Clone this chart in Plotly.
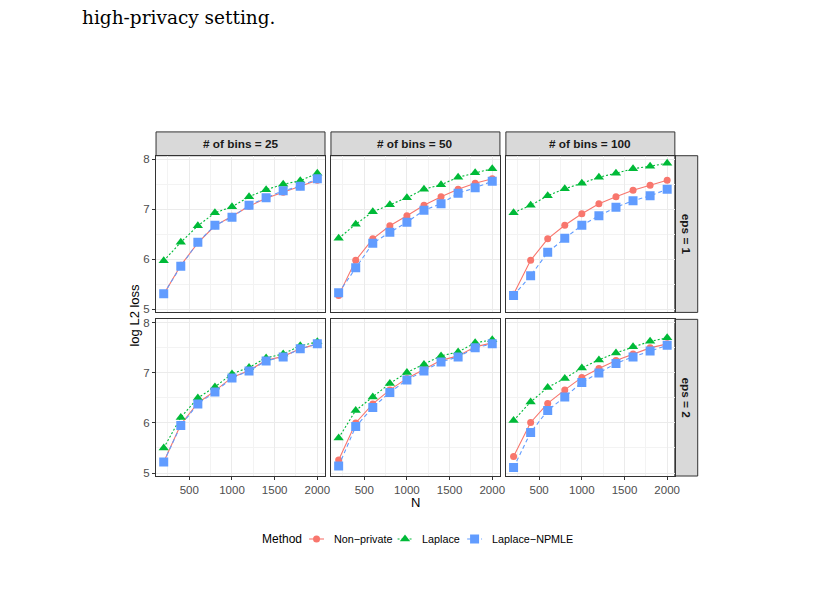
import plotly.graph_objects as go

W, H = 818, 601

N = [200, 400, 600, 800, 1000, 1200, 1400, 1600, 1800, 2000]
bins_labels = ["# of bins = 25", "# of bins = 50", "# of bins = 100"]
eps_labels = ["eps = 1", "eps = 2"]
methods = ["Non\u2212private", "Laplace", "Laplace\u2212NPMLE"]

# log L2 loss values
nonprivate_eps1_b25 = [5.30, 5.88, 6.33, 6.67, 6.86, 7.06, 7.22, 7.34, 7.45, 7.58]
laplace_eps1_b25 = [5.97, 6.34, 6.67, 6.93, 7.05, 7.25, 7.39, 7.50, 7.57, 7.72]
npmle_eps1_b25 = [5.31, 5.86, 6.34, 6.68, 6.84, 7.08, 7.23, 7.37, 7.46, 7.61]

nonprivate_eps1_b50 = [5.28, 5.98, 6.41, 6.67, 6.87, 7.08, 7.25, 7.40, 7.52, 7.61]
laplace_eps1_b50 = [6.42, 6.70, 6.95, 7.09, 7.23, 7.40, 7.49, 7.64, 7.73, 7.81]
npmle_eps1_b50 = [5.33, 5.83, 6.32, 6.54, 6.74, 6.98, 7.11, 7.32, 7.43, 7.56]

nonprivate_eps1_b100 = [5.30, 5.98, 6.41, 6.68, 6.91, 7.11, 7.25, 7.38, 7.48, 7.58]
laplace_eps1_b100 = [6.93, 7.08, 7.27, 7.41, 7.52, 7.64, 7.72, 7.81, 7.86, 7.92]
npmle_eps1_b100 = [5.28, 5.67, 6.14, 6.42, 6.68, 6.87, 7.04, 7.17, 7.27, 7.40]

nonprivate_eps2_b25 = [5.22, 5.97, 6.40, 6.64, 6.91, 7.05, 7.25, 7.33, 7.48, 7.58]
laplace_eps2_b25 = [5.50, 6.11, 6.50, 6.72, 6.98, 7.11, 7.30, 7.38, 7.54, 7.62]
npmle_eps2_b25 = [5.22, 5.95, 6.38, 6.62, 6.90, 7.04, 7.24, 7.32, 7.48, 7.58]

nonprivate_eps2_b50 = [5.26, 6.00, 6.38, 6.66, 6.89, 7.07, 7.25, 7.34, 7.52, 7.60]
laplace_eps2_b50 = [5.70, 6.25, 6.52, 6.79, 7.01, 7.17, 7.34, 7.42, 7.60, 7.66]
npmle_eps2_b50 = [5.14, 5.93, 6.31, 6.61, 6.86, 7.04, 7.22, 7.32, 7.50, 7.58]

nonprivate_eps2_b100 = [5.33, 6.01, 6.39, 6.66, 6.91, 7.09, 7.25, 7.38, 7.50, 7.58]
laplace_eps2_b100 = [6.05, 6.42, 6.71, 6.89, 7.10, 7.26, 7.40, 7.52, 7.63, 7.70]
npmle_eps2_b100 = [5.11, 5.81, 6.25, 6.52, 6.81, 7.00, 7.19, 7.32, 7.44, 7.55]

panels = [
    [[nonprivate_eps1_b25, laplace_eps1_b25, npmle_eps1_b25],
     [nonprivate_eps1_b50, laplace_eps1_b50, npmle_eps1_b50],
     [nonprivate_eps1_b100, laplace_eps1_b100, npmle_eps1_b100]],
    [[nonprivate_eps2_b25, laplace_eps2_b25, npmle_eps2_b25],
     [nonprivate_eps2_b50, laplace_eps2_b50, npmle_eps2_b50],
     [nonprivate_eps2_b100, laplace_eps2_b100, npmle_eps2_b100]],
]

colors = ["#F8766D", "#00BA38", "#619CFF"]
symbols = ["circle", "triangle-up", "square"]
msizes = [7, 9, 9]
dashes = ["solid", "2px,2px", "4px,3px"]

FONT = "Liberation Sans, Arial, sans-serif"

# layout geometry in pixels
col_x = [(157, 327), (333, 503), (509, 679)]
row_y = [(155, 313), (320, 478)]
strip_top = (131, 155)
strip_right = (679, 702)
legend_y = 541.5
legend_title_x = 262
legend_key_cx = [318.5, 407.5, 477.5]
legend_text_x = [334, 423, 493]
key_half = 7.5


def px(x):
    return x / W


def py(y):
    return 1 - y / H


fig = go.Figure()
shapes = []
annotations = []

for r in range(2):
    for c in range(3):
        idx = r * 3 + c + 1
        xa = "x" if idx == 1 else f"x{idx}"
        ya = "y" if idx == 1 else f"y{idx}"
        for m in range(3):
            fig.add_trace(go.Scatter(
                x=N, y=panels[r][c][m], xaxis=xa, yaxis=ya,
                mode="lines+markers", name=methods[m], showlegend=False,
                line=dict(color=colors[m], width=1.1, dash=dashes[m]),
                marker=dict(color=colors[m], symbol=symbols[m], size=msizes[m],
                            line=dict(width=0)),
            ))
        x0, x1 = col_x[c]
        y0, y1 = row_y[r]
        xkey = "xaxis" if idx == 1 else f"xaxis{idx}"
        ykey = "yaxis" if idx == 1 else f"yaxis{idx}"
        fig.update_layout(**{
            xkey: dict(
                domain=[px(x0), px(x1)], anchor=ya, range=[110, 2090],
                tickvals=[500, 1000, 1500, 2000], showticklabels=(r == 1),
                ticks="outside" if r == 1 else "", ticklen=3, tickwidth=1,
                tickcolor="#333333",
                tickfont=dict(family=FONT, size=11.5, color="#4D4D4D"),
                showgrid=True, gridcolor="#EBEBEB", gridwidth=1.1,
                minor=dict(tickvals=[250, 750, 1250, 1750], showgrid=True,
                           gridcolor="#F3F3F3", gridwidth=0.6, ticks=""),
                showline=True, mirror=True, linecolor="#333333", linewidth=1,
                zeroline=False, fixedrange=True,
            ),
            ykey: dict(
                domain=[py(y1), py(y0)], anchor=xa, range=[4.94, 8.07],
                tickvals=[5, 6, 7, 8], showticklabels=(c == 0),
                ticks="outside" if c == 0 else "", ticklen=3, tickwidth=1,
                tickcolor="#333333",
                tickfont=dict(family=FONT, size=11.5, color="#4D4D4D"),
                showgrid=True, gridcolor="#EBEBEB", gridwidth=1.1,
                minor=dict(tickvals=[5.5, 6.5, 7.5], showgrid=True,
                           gridcolor="#F3F3F3", gridwidth=0.6, ticks=""),
                showline=True, mirror=True, linecolor="#333333", linewidth=1,
                zeroline=False, fixedrange=True,
            ),
        })

# overlay axis in pixel coordinates for the legend keys
fig.update_layout(
    xaxis7=dict(domain=[0, 1], range=[0, W], visible=False, fixedrange=True, anchor="y7"),
    yaxis7=dict(domain=[0, 1], range=[H, 0], visible=False, fixedrange=True, anchor="x7"),
)
for m in range(3):
    cx = legend_key_cx[m]
    fig.add_trace(go.Scatter(
        x=[cx - key_half, cx + key_half], y=[legend_y, legend_y], xaxis="x7", yaxis="y7",
        mode="lines", showlegend=False, hoverinfo="skip",
        line=dict(color=colors[m], width=1.1, dash=dashes[m]),
    ))
    fig.add_trace(go.Scatter(
        x=[cx], y=[legend_y], xaxis="x7", yaxis="y7",
        mode="markers", showlegend=False, hoverinfo="skip",
        marker=dict(color=colors[m], symbol=symbols[m], size=msizes[m], line=dict(width=0)),
    ))
    annotations.append(dict(x=px(legend_text_x[m]), y=py(legend_y), xref="paper", yref="paper",
                            text=methods[m], showarrow=False, xanchor="left", yanchor="middle",
                            font=dict(family=FONT, size=10.8, color="#000000")))
annotations.append(dict(x=px(legend_title_x), y=py(legend_y), xref="paper", yref="paper",
                        text="Method", showarrow=False, xanchor="left", yanchor="middle",
                        font=dict(family=FONT, size=12, color="#000000")))

# top strips
for c in range(3):
    x0, x1 = col_x[c]
    shapes.append(dict(type="rect", xref="paper", yref="paper",
                       x0=px(x0), x1=px(x1), y0=py(strip_top[1]), y1=py(strip_top[0]),
                       fillcolor="#D9D9D9", line=dict(color="#333333", width=1),
                       layer="below"))
    annotations.append(dict(x=px((x0 + x1) / 2), y=py((strip_top[0] + strip_top[1]) / 2),
                            xref="paper", yref="paper", text=f"<b>{bins_labels[c]}</b>",
                            showarrow=False, xanchor="center", yanchor="middle",
                            font=dict(family=FONT, size=11.8, color="#1A1A1A")))
# right strips
for r in range(2):
    y0, y1 = row_y[r]
    shapes.append(dict(type="rect", xref="paper", yref="paper",
                       x0=px(strip_right[0]), x1=px(strip_right[1]), y0=py(y1), y1=py(y0),
                       fillcolor="#D9D9D9", line=dict(color="#333333", width=1),
                       layer="below"))
    annotations.append(dict(x=px((strip_right[0] + strip_right[1]) / 2), y=py((y0 + y1) / 2),
                            xref="paper", yref="paper", text=f"<b>{eps_labels[r]}</b>",
                            showarrow=False, textangle=90, xanchor="center", yanchor="middle",
                            font=dict(family=FONT, size=11.8, color="#1A1A1A")))

# axis titles
annotations.append(dict(x=px(418), y=py(505), xref="paper", yref="paper", text="N",
                        showarrow=False, xanchor="center", yanchor="middle",
                        font=dict(family=FONT, size=13, color="#000000")))
annotations.append(dict(x=px(135), y=py(316), xref="paper", yref="paper", text="log L2 loss",
                        showarrow=False, textangle=-90, xanchor="center", yanchor="middle",
                        font=dict(family=FONT, size=13, color="#000000")))
# surrounding document text
annotations.append(dict(x=px(80), y=py(16), xref="paper", yref="paper",
                        text="high-privacy setting.", showarrow=False,
                        xanchor="left", yanchor="middle",
                        font=dict(family="DejaVu Serif, Liberation Serif, serif", size=18.5,
                                  color="#000000")))

fig.update_layout(
    width=W, height=H, margin=dict(l=0, r=0, t=0, b=0),
    paper_bgcolor="white", plot_bgcolor="rgba(0,0,0,0)",
    shapes=shapes, annotations=annotations,
    showlegend=False,
)

fig.write_html("out.html")
